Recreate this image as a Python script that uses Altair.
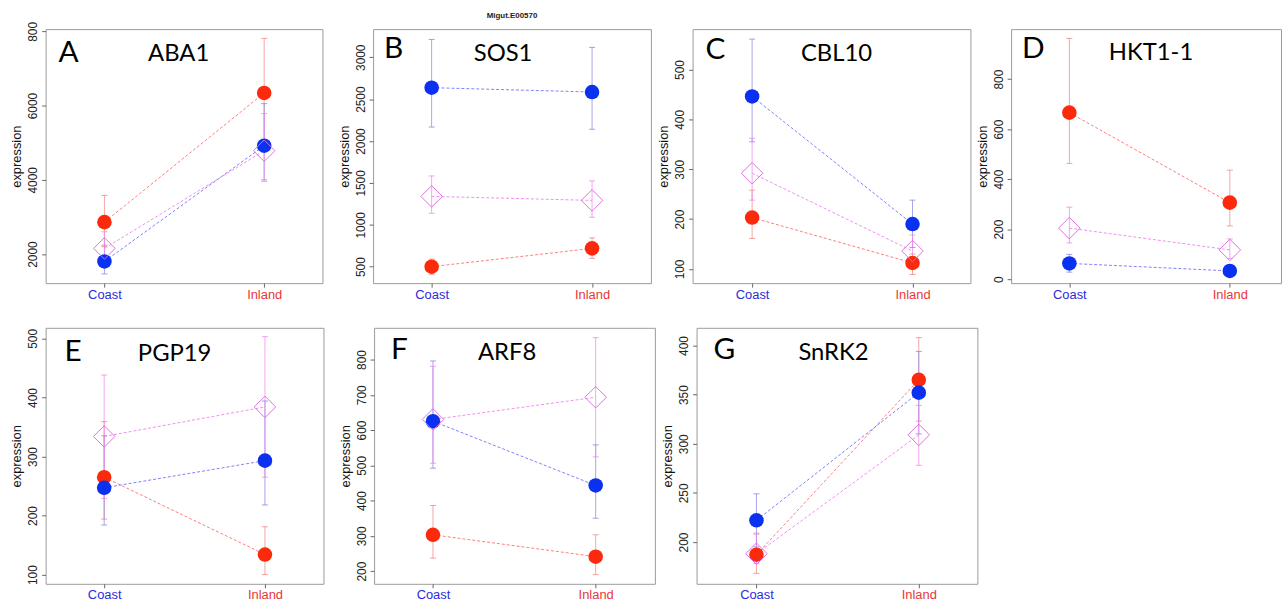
import altair as alt
import pandas as pd

# ---------------- data ----------------
sites = ["Coast", "Inland"]
genes = ["ABA1", "SOS1", "CBL10", "HKT1-1", "PGP19", "ARF8", "SnRK2"]
letters = ["A", "B", "C", "D", "E", "F", "G"]
top_title = "Migut.E00570"

red_mean = [[2860, 6340], [500, 718], [203, 112], [666, 306], [265, 134], [303, 241], [187, 365]]
red_lo = [[2200, 4880], [410, 600], [161, 89], [463, 213], [194, 100], [237, 190], [168, 323]]
red_hi = [[3580, 7810], [590, 844], [258, 130], [963, 436], [359, 181], [386, 303], [208, 408]]

blue_mean = [[1800, 4920], [2637, 2585], [446, 190], [63, 33], [247, 293], [625, 443], [222, 352]]
blue_lo = [[1465, 4000], [2167, 2140], [355, 143], [28, 22], [184, 218], [492, 350], [195, 310]]
blue_hi = [[2240, 6053], [3213, 3118], [561, 238], [99, 44], [335, 394], [796, 558], [249, 394]]

pink_mean = [[2152, 4784], [1339, 1291], [292, 136], [204, 117], [334, 384], [630, 693], [188, 309]]
pink_lo = [[1750, 3954], [1137, 1090], [238, 104], [145, 83], [229, 265], [506, 524], [178, 278]]
pink_hi = [[2600, 5785], [1583, 1524], [362, 168], [288, 161], [438, 503], [781, 862], [209, 339]]

y_lo = [1216, 303, 71.5, -16, 84.4, 164, 157.4]
y_hi = [8060, 3336, 581, 1000, 518, 890, 418]
y_ticks = [
    [2000, 4000, 6000, 8000],
    [500, 1000, 1500, 2000, 2500, 3000],
    [100, 200, 300, 400, 500],
    [0, 200, 400, 600, 800],
    [100, 200, 300, 400, 500],
    [200, 300, 400, 500, 600, 700, 800],
    [200, 250, 300, 350, 400],
]

# ---------------- layout / style ----------------
widths = [279, 280, 280, 272, 280, 283, 283]
heights = [256, 256, 256, 256, 258, 258, 258]
x_dom = [[0.632, 2.365], [0.635, 2.367], [0.629, 2.361], [0.637, 2.319],
         [0.636, 2.364], [0.638, 2.364], [0.631, 2.361]]
letter_pos = [(13, 33), (11, 29), (13, 30), (11, 29), (19, 33), (17, 31), (17, 31)]
gene_pos = [(134, 32), (131, 32), (145, 32), (141, 31), (130, 33), (134, 32), (138, 32)]

SERIES = ["red", "blue", "pink"]
PT_COL = ["#fb2a0c", "#0a30f0", "#e070e0"]
LINE_COL = ["#ff6666", "#6a6aff", "#ee7aee"]
ERR_COL = ["#ee8888", "#8888e6", "#ee88ee"]
AXFONT = "Liberation Sans"
ANNFONT = "Lato"


def panel(i):
    rows = []
    for s, m, lo, hi in (("red", red_mean, red_lo, red_hi),
                         ("blue", blue_mean, blue_lo, blue_hi),
                         ("pink", pink_mean, pink_lo, pink_hi)):
        for j, site in enumerate(sites):
            rows.append(dict(series=s, site=site, x=j + 1,
                             mean=m[i][j], lo=lo[i][j], hi=hi[i][j]))
    df = pd.DataFrame(rows)

    xs = alt.Scale(domain=x_dom[i], nice=False, zero=False)
    ys = alt.Scale(domain=[y_lo[i], y_hi[i]], nice=False, zero=False)

    xaxis = alt.Axis(
        values=[1, 2], labelExpr="datum.value == 1 ? 'Coast' : 'Inland'",
        labelColor={"condition": {"test": "datum.value == 1", "value": "#2b2bdc"},
                    "value": "#e8373a"},
        labelFont=AXFONT, labelFontSize=13, tickSize=4, tickColor="#666",
        labelPadding=1, domain=False, grid=False, title=None,
    )
    ykw = dict(
        values=y_ticks[i], format="d", labelAngle=270, labelAlign="center",
        labelBaseline="bottom", labelFont=AXFONT, labelFontSize=12,
        labelColor="#222", tickSize=4, tickColor="#666", labelPadding=2,
        domain=False, grid=False, title="expression", titleFont=AXFONT,
        titleFontSize=13, titleFontWeight="normal", titleColor="#111",
        titlePadding=3,
    )
    if i == 0:
        ykw["labelExpr"] = "datum.value == 8000 ? '800' : datum.label"
    yaxis = alt.Axis(**ykw)

    X = alt.X("x:Q", scale=xs, axis=xaxis)

    def col(rng):
        return alt.Color("series:N", scale=alt.Scale(domain=SERIES, range=rng), legend=None)

    base = alt.Chart(df)
    err = base.mark_rule(strokeWidth=1, opacity=0.75).encode(
        x=X, y=alt.Y("lo:Q", scale=ys, axis=yaxis), y2="hi:Q", color=col(ERR_COL))
    caps = base.transform_fold(["lo", "hi"], as_=["k", "v"]).mark_tick(
        orient="horizontal", size=6, thickness=1, opacity=0.8).encode(
        x=X, y=alt.Y("v:Q", scale=ys, axis=yaxis), color=col(ERR_COL))
    lines = base.mark_line(strokeDash=[3, 2], strokeWidth=1, opacity=0.85).encode(
        x=X, y=alt.Y("mean:Q", scale=ys, axis=yaxis), color=col(LINE_COL),
        detail="series:N")
    dots = base.transform_filter("datum.series != 'pink'").mark_circle(
        size=215, opacity=1).encode(
        x=X, y=alt.Y("mean:Q", scale=ys, axis=yaxis), color=col(PT_COL))
    dia = base.transform_filter("datum.series == 'pink'").mark_point(
        shape="diamond", filled=False, size=470, strokeWidth=1, opacity=1).encode(
        x=X, y=alt.Y("mean:Q", scale=ys, axis=yaxis), color=col(PT_COL))

    ann = alt.Chart(pd.DataFrame({"letter": [letters[i]], "gene": [genes[i]]}))
    lx, ly = letter_pos[i]
    gx, gy = gene_pos[i]
    let = ann.mark_text(align="left", baseline="alphabetic", font=ANNFONT,
                        fontSize=30, color="#000").encode(
        x=alt.value(lx), y=alt.value(ly), text="letter:N")
    gen = ann.mark_text(align="center", baseline="alphabetic", font=ANNFONT,
                        fontSize=24, color="#000").encode(
        x=alt.value(gx), y=alt.value(gy), text="gene:N")

    ch = alt.layer(err, caps, lines, dots, dia, let, gen).resolve_scale(
        color="independent").properties(width=widths[i], height=heights[i])
    if i == 1:
        ch = ch.properties(title=alt.TitleParams(
            top_title, fontSize=8, fontWeight="bold", font=AXFONT,
            color="#222", offset=9, anchor="middle"))
    return ch


P = [panel(i) for i in range(7)]
row1 = alt.hconcat(P[0], alt.hconcat(P[1], alt.hconcat(P[2], P[3], spacing=4),
                                     spacing=5), spacing=14)
row2 = alt.hconcat(P[4], alt.hconcat(P[5], P[6], spacing=5), spacing=14)

chart = alt.vconcat(row1, row2, spacing=25).properties(
    padding={"left": 10, "top": 9, "right": 0, "bottom": 0},
    background="white",
).configure_view(stroke="#9a9a9a", strokeWidth=1).configure_axis(grid=False)

chart.save("out.html", embed_options={"renderer": "svg", "actions": False})
